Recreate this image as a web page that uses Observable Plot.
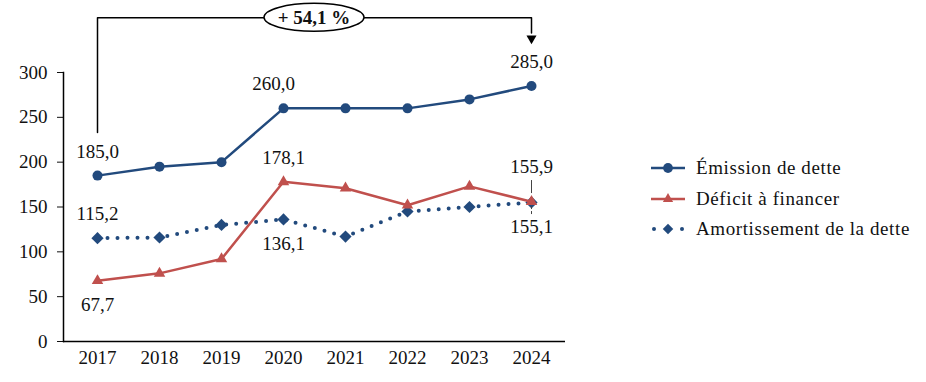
<!DOCTYPE html>
<html><head><meta charset="utf-8">
<script src="https://cdn.jsdelivr.net/npm/d3@7"></script>
<script src="https://cdn.jsdelivr.net/npm/@observablehq/plot@0.6"></script>
<style>
body{margin:0;background:#fff;}
#wrap{position:relative;width:926px;height:382px;font-family:"Liberation Serif",serif;}
#legend{position:absolute;left:650px;top:153px;font-size:19px;letter-spacing:0.6px;color:#111;}
.li{display:flex;align-items:center;height:30.5px;}
.li svg{margin-right:10px;}
</style></head>
<body><div id="wrap"></div>
<script>
const years = ["2017","2018","2019","2020","2021","2022","2023","2024"];
const emission = [185.0, 195, 200, 260.0, 260, 260, 270, 285.0];
const deficit = [67.7, 76, 92, 178.1, 171, 152, 173, 155.9];
const amort = [115.2, 116, 130, 136.1, 117, 145, 150, 155.1];
const seriesNames = ["Émission de dette", "Déficit à financer", "Amortissement de la dette"];
const yTicks = [0, 50, 100, 150, 200, 250, 300];
const labels = [
  {year:"2017", value:185.0, text:"185,0", pos:"above"},
  {year:"2017", value:115.2, text:"115,2", pos:"above"},
  {year:"2017", value:67.7, text:"67,7", pos:"below"},
  {year:"2020", value:260.0, text:"260,0", pos:"aboveLeft"},
  {year:"2020", value:178.1, text:"178,1", pos:"above"},
  {year:"2020", value:136.1, text:"136,1", pos:"below"},
  {year:"2024", value:285.0, text:"285,0", pos:"above"},
  {year:"2024", value:155.9, text:"155,9", pos:"farAbove"},
  {year:"2024", value:155.1, text:"155,1", pos:"below"}
];
const growthLabel = "+ 54,1 %";

const blue = "#224A7D", red = "#C0504D";
const mk = (arr) => years.map((y,i)=>({year:y, value:arr[i]}));
const dE = mk(emission), dD = mk(deficit), dA = mk(amort);

const bracket = [{year:"2017",value:233},{year:"2017",value:361},{year:"2024",value:361},{year:"2024",value:344}];

const offsets = {above:[0,-24], below:[0,24], aboveLeft:[-10,-24], farAbove:[0,-35]};
const labelMarks = Object.entries(offsets).map(([k,[dx,dy]]) =>
  Plot.text(labels.filter(d=>d.pos===k), {x:"year", y:"value", text:"text", dx, dy, fontSize: 19, fill:"#111", style:"letter-spacing:0.5px"}));

const plot = Plot.plot({
  width: 926, height: 382,
  marginLeft: 63, marginRight: 361, marginTop: 72, marginBottom: 41,
  style: {fontFamily: "Liberation Serif, serif", fontSize: "19px", color:"#111", overflow:"visible"},
  x: {type:"point", domain: years, padding: 0.5, label: null},
  y: {domain: [0, 300], ticks: yTicks, label: null},
  marks: [
    Plot.axisY({ticks: yTicks, tickSize: 6, tickPadding: 10, tickFormat: d=>String(d), fontSize: 19, label: null}),
    Plot.axisX({tickSize: 0, tickPadding: 9, fontSize: 19, label: null}),
    Plot.frame({anchor: "left", stroke: "#000", strokeWidth: 1.5}),
    Plot.ruleY([0], {stroke: "#000", strokeWidth: 1.5}),
    Plot.line(dA, {x:"year", y:"value", stroke: blue, strokeWidth: 4, strokeDasharray: "0 10", strokeLinecap: "round"}),
    Plot.dot(dA, {x:"year", y:"value", symbol:"diamond2", r: 5.5, fill: blue, stroke: "none"}),
    Plot.line(dD, {x:"year", y:"value", stroke: red, strokeWidth: 2.5}),
    Plot.dot(dD, {x:"year", y:"value", symbol:"triangle2", r: 5.5, fill: red, stroke:"none"}),
    Plot.line(dE, {x:"year", y:"value", stroke: blue, strokeWidth: 2.5}),
    Plot.dot(dE, {x:"year", y:"value", symbol:"circle", r: 5, fill: blue, stroke:"none"}),
    Plot.ruleX([{year:"2024", a:179.5, b:165}], {x:"year", y1:"a", y2:"b", stroke:"#444", strokeWidth:1}),
    Plot.ruleX([{year:"2024", a:150.5, b:141.5}], {x:"year", y1:"a", y2:"b", stroke:"#444", strokeWidth:1, strokeDasharray:"3 2"}),
    ...labelMarks,
    Plot.line(bracket, {x:"year", y:"value", stroke:"#000", strokeWidth: 1.5, clip: false}),
    Plot.dot([{year:"2024", value:338}], {x:"year", y:"value", symbol:"triangle2", r: 4.8, rotate: 180, fill:"#000", stroke:"none"})
  ]
});
document.getElementById("wrap").appendChild(plot);

const svg = d3.select(plot);
const xs = plot.scale("x"), ys = plot.scale("y");
const cx = (xs.apply("2020") + xs.apply("2021")) / 2;
const cy = ys.apply(361);
const g = svg.append("g");
g.append("ellipse").attr("cx", cx).attr("cy", cy).attr("rx", 50).attr("ry", 14)
  .attr("fill", "#fff").attr("stroke", "#000").attr("stroke-width", 1.5);
g.append("text").attr("x", cx).attr("y", cy).attr("text-anchor","middle").attr("dy","0.35em")
  .attr("font-weight","bold").attr("font-size", 19).attr("font-family","Liberation Serif, serif").text(growthLabel);

const legend = d3.select("#wrap").append("div").attr("id","legend");
const items = [
  {name: seriesNames[0], color: blue, type:"circle"},
  {name: seriesNames[1], color: red, type:"triangle"},
  {name: seriesNames[2], color: blue, type:"diamond"}
];
items.forEach(it => {
  const row = legend.append("div").attr("class","li");
  const s = row.append("svg").attr("width", 36).attr("height", 16);
  if (it.type === "diamond") {
    [4, 32].forEach(x => s.append("circle").attr("cx", x).attr("cy", 8).attr("r", 2).attr("fill", it.color));
    s.append("path").attr("d", d3.symbol(d3.symbolDiamond2, 70)()).attr("transform","translate(18,8)").attr("fill", it.color);
  } else {
    s.append("line").attr("x1",1).attr("x2",35).attr("y1",8).attr("y2",8).attr("stroke", it.color).attr("stroke-width", 2.5);
    const sym = it.type === "circle" ? d3.symbolCircle : d3.symbolTriangle2;
    s.append("path").attr("d", d3.symbol(sym, 75)()).attr("transform","translate(18,8)").attr("fill", it.color);
  }
  row.append("span").text(it.name);
});
</script></body></html>
